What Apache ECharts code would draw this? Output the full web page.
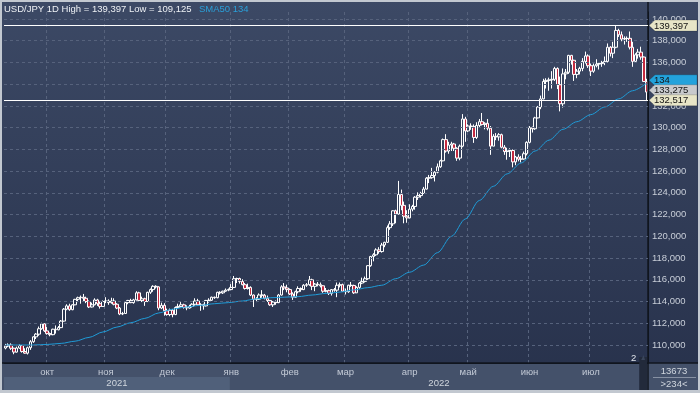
<!DOCTYPE html>
<html>
<head>
<meta charset="utf-8">
<script src="https://cdn.jsdelivr.net/npm/echarts@6/dist/echarts.min.js"></script>
<style>
html,body{margin:0;padding:0;background:#323e5a;}
#c{width:700px;height:393px;}
</style>
</head>
<body>
<div id="c"></div>
<script>
// ---------- DATA ----------
const SYMBOL = 'USD/JPY';
const TIMEFRAME = '1D';
const START_DATE = '2021-09-10';   // first trading day shown
const END_DATE = '2022-07-29';     // last trading day shown
const MONTHS_RU = ['янв','фев','мар','апр','май','июн','июл','авг','сен','окт','ноя','дек'];
const yTicks = [110,112,114,116,118,120,122,124,126,128,130,132,134,136,138,140];
const levels = [139.397, 132.517];           // horizontal lines
const smaPeriod = 50;
const smaStep = 5;                            // SMA read every 5th trading day
const smaValues = [
  110.00,110.00,110.00,110.05,110.15,110.35,110.70,111.20,111.65,112.05,
  112.45,112.95,113.30,113.50,113.65,113.80,113.90,114.05,114.25,114.35,
  114.40,114.45,114.60,114.75,114.87,115.07,115.28,115.50,116.10,116.70,
  117.35,118.50,120.00,121.60,123.30,124.60,125.75,126.75,127.85,128.85,
  129.85,130.55,131.20,131.90,132.65,133.40,134.10
];
const counterTop = '13673';
const counterBottom = '>234<';
const pageMark = '2';
// candles: [open, high, low, close]
const candles = [
  // Sep 2021
  [109.72,110.10,109.60,109.90],[109.90,110.15,109.80,110.00],[110.00,110.15,109.55,109.70],
  [109.70,109.75,109.15,109.35],[109.35,109.85,109.30,109.72],[109.72,110.05,109.65,109.95],
  [109.95,110.00,109.30,109.40],[109.40,109.70,109.20,109.25],[109.25,109.85,109.125,109.75],
  [109.75,110.45,109.55,110.30],[110.30,110.80,110.20,110.75],[110.75,111.10,110.55,111.00],
  [111.00,111.70,110.85,111.50],[111.50,112.05,111.40,111.95],[111.95,112.00,111.20,111.30],
  // Oct
  [111.30,111.65,110.95,111.05],[111.05,111.15,110.80,110.95],[110.95,111.50,110.90,111.45],
  [111.45,111.80,111.05,111.40],[111.40,111.75,111.35,111.60],[111.60,112.30,111.55,112.20],
  [112.20,113.40,112.15,113.30],[113.30,113.75,113.20,113.60],[113.60,113.80,113.15,113.25],
  [113.25,113.75,113.20,113.70],[113.70,114.25,113.65,114.20],[114.20,114.45,113.95,114.35],
  [114.35,114.55,113.80,114.40],[114.40,114.70,114.05,114.30],[114.30,114.45,113.85,114.00],
  [114.00,114.10,113.40,113.50],[113.50,113.90,113.45,113.70],[113.70,114.30,113.65,114.15],
  [114.15,114.25,113.60,113.80],[113.80,114.00,113.35,113.55],[113.55,114.10,113.50,114.00],
  // Nov
  [114.00,114.40,113.85,114.05],[114.05,114.20,113.70,113.90],[113.90,114.35,113.80,114.05],
  [114.05,114.30,113.65,113.75],[113.75,113.85,113.30,113.40],[113.40,113.50,112.75,112.85],
  [112.85,113.05,112.75,112.90],[112.90,114.00,112.85,113.90],[113.90,114.15,113.75,114.10],
  [114.10,114.25,113.85,113.90],[113.90,114.25,113.80,114.15],[114.15,114.95,114.10,114.80],
  [114.80,114.90,114.05,114.10],[114.10,114.45,113.95,114.25],[114.25,114.35,113.60,114.00],
  [114.00,114.90,113.95,114.85],[114.85,115.20,114.70,115.10],[115.10,115.50,114.90,115.40],
  [115.40,115.50,115.20,115.35],[115.35,115.40,113.20,113.40],[113.40,113.90,113.30,113.65],
  [113.65,113.85,112.70,113.15],
  // Dec
  [113.15,113.35,112.70,112.80],[112.80,113.35,112.65,113.20],[113.20,113.30,112.55,112.80],
  [112.80,113.55,112.75,113.45],[113.45,113.80,113.40,113.55],[113.55,113.95,113.45,113.70],
  [113.70,113.80,113.35,113.45],[113.45,113.65,113.20,113.40],[113.40,113.70,113.35,113.55],
  [113.55,113.85,113.45,113.75],[113.75,114.30,113.60,114.05],[114.05,114.25,113.65,113.70],
  [113.70,113.85,113.15,113.72],[113.72,113.80,113.25,113.60],[113.60,114.15,113.55,114.10],
  [114.10,114.30,113.90,114.12],[114.12,114.45,114.05,114.40],[114.40,114.45,114.25,114.35],
  [114.35,114.90,114.30,114.85],[114.85,114.95,114.65,114.80],[114.80,115.00,114.70,114.95],
  [114.95,115.20,114.90,115.05],[115.05,115.20,114.95,115.10],
  // Jan 2022
  [115.10,115.60,115.05,115.30],[115.30,116.35,115.25,116.10],[116.10,116.20,115.70,116.12],
  [116.12,116.20,115.65,115.85],[115.85,116.05,115.50,115.55],[115.55,115.70,115.10,115.20],
  [115.20,115.65,115.10,115.30],[115.30,115.40,114.50,114.60],[114.60,114.65,113.50,114.20],
  [114.20,114.40,113.95,114.22],[114.22,114.75,114.15,114.60],[114.60,115.05,114.35,114.58],
  [114.58,114.70,114.20,114.30],[114.30,114.55,113.95,114.10],[114.10,114.15,113.60,113.70],
  [113.70,114.05,113.50,113.95],[113.95,114.10,113.70,113.90],[113.90,114.70,113.85,114.60],
  [114.60,115.50,114.55,115.35],[115.35,115.70,115.05,115.25],[115.25,115.55,114.85,115.10],
  // Feb
  [115.10,115.20,114.60,114.70],[114.70,114.85,114.15,114.40],[114.40,115.00,114.35,114.90],
  [114.90,115.40,114.75,115.20],[115.20,115.30,114.90,115.10],[115.10,115.60,115.05,115.50],
  [115.50,115.70,115.35,115.55],[115.55,116.35,115.45,116.00],[116.00,116.10,115.05,115.40],
  [115.40,115.70,114.95,115.60],[115.60,115.80,115.40,115.55],[115.55,115.75,115.30,115.45],
  [115.45,115.50,114.80,114.95],[114.95,115.25,114.85,115.00],[115.00,115.10,114.60,114.75],
  [114.75,115.15,114.55,115.10],[115.10,115.25,114.90,115.05],[115.05,115.75,114.40,115.50],
  [115.50,115.75,115.30,115.55],[115.55,115.65,114.90,114.95],
  // Mar
  [114.95,115.20,114.65,114.90],[114.90,115.55,114.80,115.50],[115.50,115.80,115.35,115.48],
  [115.48,115.55,114.70,114.80],[114.80,115.40,114.80,115.30],[115.30,115.80,115.15,115.70],
  [115.70,116.20,115.60,115.85],[115.85,116.30,115.75,116.10],[116.10,117.35,116.00,117.30],
  [117.30,118.20,117.20,118.15],[118.15,118.45,117.70,118.30],[118.30,118.90,118.20,118.75],
  [118.75,119.00,118.40,118.60],[118.60,119.40,118.50,119.20],[119.20,119.50,119.00,119.45],
  [119.45,121.00,119.40,120.80],[120.80,121.40,120.60,121.15],[121.15,122.40,120.95,122.35],
  [122.35,122.45,121.20,122.05],[122.05,125.10,122.00,123.85],[123.85,124.30,122.40,122.85],
  [122.85,123.20,121.20,121.85],[121.85,122.40,121.25,121.70],
  // Apr
  [121.70,122.95,121.65,122.50],[122.50,122.90,122.30,122.75],[122.75,123.70,122.45,123.60],
  [123.60,124.05,123.35,123.75],[123.75,124.10,123.55,123.95],[123.95,124.55,123.90,124.35],
  [124.35,125.45,124.30,125.35],[125.35,125.65,124.90,125.40],[125.40,126.30,125.30,125.60],
  [125.60,126.00,125.05,125.90],[125.90,126.70,125.80,126.40],[126.40,127.05,126.30,126.95],
  [126.95,129.00,126.90,128.90],[128.90,129.40,127.70,127.85],[127.85,128.70,127.60,128.40],
  [128.40,128.70,127.85,128.50],[128.50,128.60,127.85,128.10],[128.10,128.20,126.95,127.20],
  [127.20,128.45,127.00,128.30],[128.30,131.25,128.20,130.80],[130.80,131.00,128.70,129.70],
  // May
  [129.70,130.30,129.60,130.15],[130.15,130.40,129.80,130.10],[130.10,130.30,128.60,129.10],
  [129.10,130.50,128.95,130.20],[130.20,130.80,130.05,130.55],[130.55,131.35,130.20,130.30],
  [130.30,130.50,129.85,130.40],[130.40,130.80,129.75,129.95],[129.95,130.15,127.50,128.30],
  [128.30,129.40,128.30,129.20],[129.20,129.50,128.85,129.15],[129.15,129.50,128.80,129.35],
  [129.35,129.45,128.10,128.20],[128.20,128.40,127.50,127.80],[127.80,128.15,127.05,127.85],
  [127.85,128.10,127.30,127.90],[127.90,128.00,126.35,126.85],[126.85,127.40,126.55,127.30],
  [127.30,127.55,126.90,127.10],[127.10,127.40,126.80,127.12],[127.12,127.80,127.05,127.60],
  [127.60,128.75,127.45,128.65],
  // Jun
  [128.65,130.15,128.55,130.00],[130.00,130.10,129.55,129.90],[129.90,131.00,129.80,130.90],
  [130.90,132.00,130.85,131.90],[131.90,132.95,131.70,132.65],[132.65,134.50,132.60,134.25],
  [134.25,134.55,133.60,134.35],[134.35,134.60,133.40,134.40],[134.40,135.20,133.60,134.45],
  [134.45,135.60,134.30,135.45],[135.45,135.55,133.55,133.95],[133.95,134.70,131.50,132.20],
  [132.20,135.45,131.85,134.95],[134.95,135.40,134.45,135.10],[135.10,136.70,134.95,136.65],
  [136.65,136.70,135.80,136.20],[136.20,136.25,134.30,134.90],[134.90,135.40,134.55,135.20],
  [135.20,135.60,134.90,135.45],[135.45,136.40,135.20,136.10],[136.10,137.00,135.90,136.60],
  [136.60,136.75,135.50,135.70],
  // Jul
  [135.70,135.90,134.75,135.20],[135.20,135.90,135.05,135.70],[135.70,136.30,135.55,135.85],
  [135.85,136.00,135.35,135.90],[135.90,136.15,135.60,136.00],[136.00,136.55,135.75,136.10],
  [136.10,137.75,136.00,137.40],[137.40,137.50,136.55,136.85],[136.85,137.90,136.40,137.40],
  [137.40,139.397,137.30,138.95],[138.95,139.10,138.35,138.55],[138.55,138.85,137.95,138.15],
  [138.15,138.40,137.65,138.20],[138.20,138.40,137.90,138.22],[138.22,138.85,137.20,137.40],
  [137.40,137.90,135.60,136.10],[136.10,136.85,136.00,136.70],[136.70,137.25,136.35,136.95],
  [136.95,137.45,136.25,136.50],[136.50,136.55,134.20,134.25],[134.25,134.50,132.517,133.275]
];

// ---------- BUILD ----------
const dates = [];
(function(){
  const d = new Date(START_DATE + 'T00:00:00Z');
  const end = new Date(END_DATE + 'T00:00:00Z');
  while (d <= end) {
    const wd = d.getUTCDay();
    if (wd !== 0 && wd !== 6) dates.push(d.toISOString().slice(0,10));
    d.setUTCDate(d.getUTCDate() + 1);
  }
})();
const monthOf = s => parseInt(s.slice(5,7),10) - 1;
const yearOf = s => s.slice(0,4);
const isMonthStart = i => i > 0 && monthOf(dates[i]) !== monthOf(dates[i-1]);
const fmt = v => v.toFixed(3).replace('.', ',');

const ecData = candles.map(r => [r[0], r[3], r[2], r[1]]);
const highAll = Math.max(...candles.map(r => r[1]));
const lowAll = Math.min(...candles.map(r => r[2]));
const lastClose = candles[candles.length-1][3];
const smaData = smaValues.map((v,k) => [dates[Math.min(k*smaStep, dates.length-1)], v]);
const smaLast = smaValues[smaValues.length-1];

const FONT = '"Liberation Sans", Arial, sans-serif';
const GRID = {left:4, right:52, top:12, bottom:30};
const W = 700, H = 393;
const Y_MIN = 108.344, Y_MAX = 140.644;

const chart = echarts.init(document.getElementById('c'), null, {renderer:'canvas', width:W, height:H});

const option = {
  animation: false,
  backgroundColor: 'transparent',
  title: [
    {text: `${SYMBOL} ${TIMEFRAME} High = ${fmt(highAll)} Low = ${fmt(lowAll)}`, left: 4, top: 4, padding: 0,
     textStyle: {color:'#eef1f5', fontSize: 9.5, fontWeight:'normal', fontFamily: FONT}},
    {text: `SMA${smaPeriod} ${Math.round(smaLast)}`, left: 199, top: 4, padding: 0,
     textStyle: {color:'#2a9fd8', fontSize: 9.5, fontWeight:'normal', fontFamily: FONT}}
  ],
  grid: Object.assign({containLabel:false}, GRID),
  xAxis: {
    type: 'category', data: dates, boundaryGap: true,
    axisLine: {show:true, lineStyle:{color:'#11161f', width:1}},
    axisTick: {show:false},
    axisLabel: {interval: (i) => isMonthStart(i), formatter: v => MONTHS_RU[monthOf(v)],
      color:'#c3cad6', fontSize: 9.5, margin: 4, fontFamily: FONT},
    splitLine: {show:true, interval: (i) => isMonthStart(i),
      lineStyle: {color:'#56627c', type:[3,3], width:1}}
  },
  yAxis: {
    type: 'value', position: 'right', min: Y_MIN, max: Y_MAX, scale: true,
    axisLine: {show:true, lineStyle:{color:'#11161f', width:1}},
    axisTick: {show:false},
    axisLabel: {customValues: yTicks, formatter: v => fmt(v), color:'#c8ced8',
      fontSize: 9.5, margin: 4, fontFamily: FONT, showMinLabel:true, showMaxLabel:true},
    splitLine: {show:false}
  },
  series: [
    {
      name: 'grid', type: 'line', data: [], z: 1, silent: true,
      markLine: {silent:true, symbol:['none','none'], label:{show:false}, animation:false,
        lineStyle:{color:'#56627c', type:[3,3], width:1},
        data: yTicks.map(v => ({yAxis: v}))}
    },
    {
      name: SYMBOL, type: 'candlestick', data: ecData, barWidth: 3, z: 2,
      itemStyle: {color:'rgba(0,0,0,0)', color0:'#c42a40', borderColor:'#ffffff', borderColor0:'#ffffff', borderWidth:1},
      markLine: {silent:true, symbol:['none','none'], label:{show:false}, animation:false,
        lineStyle:{color:'#ffffff', type:'solid', width:1},
        data: levels.map(v => ({yAxis: v}))}
    },
    {
      name: 'SMA' + smaPeriod, type: 'line', data: smaData, z: 3, symbol: 'none',
      smooth: 0.3, smoothMonotone: 'x',
      lineStyle: {color:'#1f9bd7', width:1}
    }
  ]
};
chart.setOption(option);

// ---------- DECORATION (positions via library scales) ----------
const px = i => chart.convertToPixel({xAxisIndex:0}, dates[i]);
const py = v => chart.convertToPixel({yAxisIndex:0}, v);
const band = px(1) - px(0);
const gridRight = W - GRID.right;
const gridBottom = H - GRID.bottom;

const g = [];
// background gradient
g.push({type:'rect', z:-100, silent:true, shape:{x:0,y:0,width:W,height:H},
  style:{fill: new echarts.graphic.LinearGradient(0,0,0,1,[{offset:0,color:'#3c4965'},{offset:1,color:'#27314b'}])}});
// axis row
g.push({type:'rect', z:-50, silent:true, shape:{x:0,y:gridBottom,width:W,height:H-gridBottom},
  style:{fill:'#44516a'}});
// year boxes / labels
const years = [...new Set(dates.map(yearOf))];
years.forEach((yr, k) => {
  const first = dates.findIndex(d => yearOf(d) === yr);
  let last = -1; dates.forEach((d,i) => { if (yearOf(d) === yr) last = i; });
  const x0 = px(first) - band/2;
  const x1 = (k === years.length-1) ? gridRight : px(last) + band/2;
  if (k % 2 === 0) {
    g.push({type:'rect', z:-40, silent:true, shape:{x:x0, y:gridBottom+14, width:x1-x0, height:13},
      style:{fill:'#50607a'}});
  }
  g.push({type:'text', z:5, silent:true, style:{text: yr, x:(x0+x1)/2, y:gridBottom+20.5,
    fill:'#d0d6de', font:`9.5px ${FONT}`, align:'center', verticalAlign:'middle', textAlign:'center', textVerticalAlign:'middle'}});
});
// vertical separator of price column, horizontal separator of axis row
g.push({type:'line', z:4, silent:true, shape:{x1:gridRight, y1:0, x2:gridRight, y2:H}, style:{stroke:'#11161f', lineWidth:1.5}});
g.push({type:'line', z:4, silent:true, shape:{x1:0, y1:gridBottom, x2:W, y2:gridBottom}, style:{stroke:'#11161f', lineWidth:1.5}});

// price tags
function tag(label, fill, yPos) {
  const y = yPos, h = 5.5, x0 = gridRight + 1;
  g.push({type:'polygon', z:20, silent:true,
    shape:{points:[[x0,y],[x0+6,y-h],[W-3,y-h],[W-3,y+h],[x0+6,y+h]]},
    style:{fill: fill, stroke:'rgba(0,0,0,0.35)', lineWidth:0.5}});
  g.push({type:'text', z:21, silent:true, style:{text: label, x:x0+5, y:y+0.5,
    fill:'#141414', font:`9.5px ${FONT}`, align:'left', verticalAlign:'middle', textAlign:'left', textVerticalAlign:'middle'}});
}
const yHigh = py(levels[0]);
const yLowLvl = py(levels[1]);
const yClose = Math.min(py(lastClose), yLowLvl - 10);
const ySma = Math.min(py(smaLast), yClose - 10);
tag(fmt(levels[0]), '#e7e5c7', yHigh);
tag(String(Math.round(smaLast)), '#23a2dc', ySma);
tag(fmt(lastClose), '#c8cacd', yClose);
tag(fmt(levels[1]), '#e7e5c7', yLowLvl);

// bottom-right counter
const cx = gridRight + (W - gridRight)/2;
g.push({type:'text', z:5, silent:true, style:{text: counterTop, x:cx, y:gridBottom+8,
  fill:'#d0d6de', font:`9.5px ${FONT}`, align:'center', verticalAlign:'middle', textAlign:'center', textVerticalAlign:'middle'}});
g.push({type:'line', z:5, silent:true, shape:{x1:gridRight+5, y1:gridBottom+14.5, x2:W-4, y2:gridBottom+14.5}, style:{stroke:'#8791a3', lineWidth:1}});
g.push({type:'text', z:5, silent:true, style:{text: counterBottom, x:cx, y:gridBottom+21,
  fill:'#d0d6de', font:`9.5px ${FONT}`, align:'center', verticalAlign:'middle', textAlign:'center', textVerticalAlign:'middle'}});

// scroll thumb + page mark
const thumbX = px(dates.length-1) - band/2 - 6;
g.push({type:'rect', z:6, silent:true, shape:{x:thumbX, y:gridBottom-6, width:gridRight-thumbX-1, height:H-3-(gridBottom-6)},
  style:{fill:'#222a3b'}});
g.push({type:'polygon', z:7, silent:true, shape:{points:[[thumbX+2,gridBottom-3],[thumbX+(gridRight-thumbX)/2,gridBottom-8],[gridRight-3,gridBottom-3]]},
  style:{fill:'#3a455b'}});
g.push({type:'text', z:7, silent:true, style:{text: pageMark, x:thumbX-3, y:gridBottom-5,
  fill:'#e0e4ea', font:`9.5px ${FONT}`, align:'right', verticalAlign:'middle', textAlign:'right', textVerticalAlign:'middle'}});

// outer frame
g.push({type:'rect', z:30, silent:true, shape:{x:1,y:1,width:W-2,height:H-2}, style:{fill:'none', stroke:'#c2c8d0', lineWidth:2}});
g.push({type:'rect', z:30, silent:true, shape:{x:0,y:H-3,width:W,height:3}, style:{fill:'#c2c8d0'}});

chart.setOption({graphic: {elements: g}});
</script>
</body>
</html>
